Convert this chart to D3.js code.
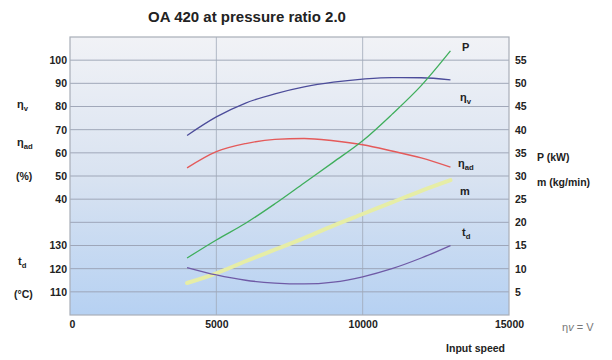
<!DOCTYPE html>
<html><head><meta charset="utf-8">
<script src="https://cdn.jsdelivr.net/npm/d3@7"></script>
<style>
body{margin:0;background:#fff;}
svg{display:block;font-family:"Liberation Sans",Arial,sans-serif;}
</style></head>
<body><svg id="c" width="612" height="360"></svg>
<script>
const speed = [4000,5000,6000,7000,8000,9000,10000,11000,12000,13000];
const etaV  = [67.5,75.5,81.5,85.5,88.5,90.5,91.8,92.5,92.4,91.5];
const etaAd = [53.5,60.5,64.0,65.8,66.2,65.2,63.5,60.8,57.8,53.8];
const power = [12.3,16.2,19.8,24.0,28.5,33.0,37.6,43.3,49.5,57.0];
const mass  = [6.9,9.0,11.6,14.1,16.6,19.3,21.8,24.3,26.8,29.1];
const tempD = [120.5,117.3,115.0,113.8,113.4,114.2,116.5,120.0,124.6,130.0];
const xTicks = [0,5000,10000,15000];
const effTicks = [40,50,60,70,80,90,100];
const tempTicks = [110,120,130];
const rightTicks = [5,10,15,20,25,30,35,40,45,50,55];

const svg = d3.select("#c");
const L=70,R=509,T=37,B=315;
const x = d3.scaleLinear([0,15000],[L,R]);
const yR = d3.scaleLinear([0,60],[B,T]);
const yEff = d3.scaleLinear([-10,110],[B,T]);
const yTemp = d3.scaleLinear([100,220],[B,T]);

const defs = svg.append("defs");
const g = defs.append("linearGradient").attr("id","bg").attr("x1",0).attr("y1",0).attr("x2",0).attr("y2",1);
g.append("stop").attr("offset","0%").attr("stop-color","#f1f2f6");
g.append("stop").attr("offset","50%").attr("stop-color","#d9e3f1");
g.append("stop").attr("offset","100%").attr("stop-color","#b6d1f2");

svg.append("rect").attr("x",L).attr("y",T).attr("width",R-L).attr("height",B-T).attr("fill","url(#bg)");

// gridlines
svg.append("g").selectAll("line").data(rightTicks).join("line")
  .attr("x1",L).attr("x2",R).attr("y1",d=>yR(d)).attr("y2",d=>yR(d))
  .attr("stroke","#98a0b2").attr("stroke-width",0.9);
svg.append("g").selectAll("line").data([5000,10000]).join("line")
  .attr("x1",d=>x(d)).attr("x2",d=>x(d)).attr("y1",T).attr("y2",B)
  .attr("stroke","#a0a8b8").attr("stroke-width",0.8);
svg.append("rect").attr("x",L).attr("y",T).attr("width",R-L).attr("height",B-T)
  .attr("fill","none").attr("stroke","#a8aeb8").attr("stroke-width",1.2);

// axes
const tickFont = sel => sel.selectAll("text").attr("font-size",10.5).attr("font-weight","bold").attr("fill","#222");
const axL = svg.append("g").attr("transform",`translate(${L-3},0)`)
  .call(d3.axisLeft(yEff).tickValues(effTicks).tickSize(0).tickPadding(0));
const axT = svg.append("g").attr("transform",`translate(${L-3},0)`)
  .call(d3.axisLeft(yTemp).tickValues(tempTicks).tickSize(0).tickPadding(0));
const axR = svg.append("g").attr("transform",`translate(${R+6},0)`)
  .call(d3.axisRight(yR).tickValues(rightTicks).tickSize(0).tickPadding(0));
const axX = svg.append("g").attr("transform",`translate(0,${B+4})`)
  .call(d3.axisBottom(x).tickValues(xTicks).tickFormat(d3.format("d")).tickSize(0).tickPadding(2));
[axL,axT,axR,axX].forEach(a=>{a.select(".domain").remove(); tickFont(a);});
axX.selectAll(".tick").filter(d=>d===0).select("text").attr("dx",2);

// curves
const mk = (ys, yscale) => d3.line().x((d,i)=>x(speed[i])).y(d=>yscale(d)).curve(d3.curveMonotoneX)(ys);
svg.append("path").attr("d",mk(mass,yR)).attr("fill","none").attr("stroke","#e6eda6").attr("stroke-width",4).attr("stroke-linecap","round");
svg.append("path").attr("d",mk(tempD,yTemp)).attr("fill","none").attr("stroke","#6f5aa6").attr("stroke-width",1.3);
svg.append("path").attr("d",mk(etaV,yEff)).attr("fill","none").attr("stroke","#4c4c9a").attr("stroke-width",1.3);
svg.append("path").attr("d",mk(etaAd,yEff)).attr("fill","none").attr("stroke","#e45a5a").attr("stroke-width",1.4);
svg.append("path").attr("d",mk(power,yR)).attr("fill","none").attr("stroke","#3fae5c").attr("stroke-width",1.3);

// text helpers
function lab(px,py,main,sub,size,anchor){
  const t = svg.append("text").attr("x",px).attr("y",py).attr("font-size",size||11)
    .attr("font-weight","bold").attr("fill","#222").attr("text-anchor",anchor||"start");
  t.append("tspan").text(main);
  if(sub) t.append("tspan").attr("font-size",(size||11)*0.7).attr("dy",3).text(sub);
  return t;
}
svg.append("text").attr("x",247).attr("y",22).attr("text-anchor","middle")
  .attr("font-size",15).attr("font-weight","bold").attr("fill","#222").text("OA 420 at pressure ratio 2.0");

// in-plot labels
lab(462,51,"P");
lab(460,101,"η","v");
lab(458,167,"η","ad");
lab(460,195,"m");
lab(462,236,"t","d");
// left labels
lab(17,108,"η","v");
lab(17,146,"η","ad");
lab(16,180,"(%)",null,10.5);
lab(18,265,"t","d");
lab(14,298,"(°C)",null,10.5);
// right labels
lab(537,161,"P (kW)",null,10.5);
lab(537,186,"m (kg/min)",null,10.5);
lab(505,352,"Input speed",null,10.5,"end");
// stray text at right
const st = svg.append("text").attr("x",562).attr("y",331).attr("font-size",11).attr("fill","#777");
st.append("tspan").text("η");
st.append("tspan").attr("font-style","italic").text("v");
st.append("tspan").text(" = V");
</script></body></html>
